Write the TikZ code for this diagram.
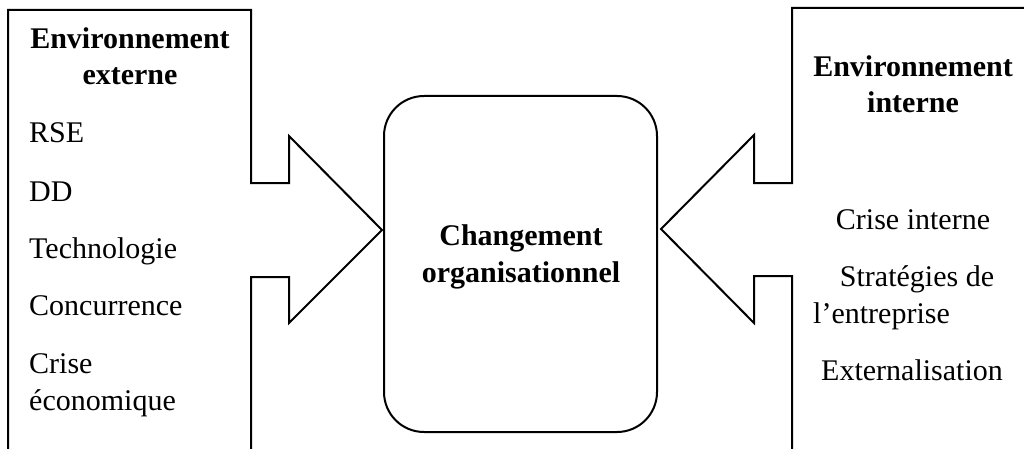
\documentclass[tikz,border=0pt]{standalone}
\usepackage{fontspec}
\setmainfont{Liberation Serif}
\begin{document}
\begin{tikzpicture}[x=1pt,y=-1pt,
  outline/.style={draw=black,line width=2pt,line join=miter},
  txt/.style={inner sep=0pt,font=\fontsize{30}{37}\selectfont},
  ttl/.style={txt,font=\fontsize{30}{37}\selectfont\bfseries}]
\path[use as bounding box] (0,0) rectangle (1024,449);
% left callout arrow
\draw[outline] (8,460) -- (8,10) -- (251,10) -- (251,183) -- (289,183) -- (289,136)
  -- (382,230) -- (289,323) -- (289,277) -- (251,277) -- (251,460);
% right callout arrow
\draw[outline] (1040,8) -- (792,8) -- (792,183) -- (754,183) -- (754,135)
  -- (661,229) -- (754,323) -- (754,276) -- (792,276) -- (792,460);
% centre box
\node[outline,rounded corners=40pt,minimum width=273pt,minimum height=336pt,inner sep=0pt]
  (centre) at (520.5,264) {};
\node[ttl,anchor=base] (c1) at (521,245) {Changement};
\node[ttl,anchor=base] (c2) at (521,282) {organisationnel};
% left texts
\node[ttl,anchor=base] (l0) at (130,49) {Environnement};
\node[ttl,anchor=base] (l1) at (130,85) {externe};
\node[txt,anchor=base west] (la) at (29,143) {RSE};
\node[txt,anchor=base west] (lb) at (29,201) {DD};
\node[txt,anchor=base west] (lc) at (29,258) {Technologie};
\node[txt,anchor=base west] (ld) at (29,315) {Concurrence};
\node[txt,anchor=base west] (le) at (29,373) {Crise};
\node[txt,anchor=base west] (lf) at (29,410) {économique};
% right texts
\node[ttl,anchor=base] (r0) at (913,77) {Environnement};
\node[ttl,anchor=base] (r1) at (913,113) {interne};
\node[txt,anchor=base] (ra) at (913,229) {Crise interne};
\node[txt,anchor=base] (rb) at (917,286) {Stratégies de};
\node[txt,anchor=base west] (rc) at (813,323) {l’entreprise};
\node[txt,anchor=base] (rd) at (912,380) {Externalisation};
\end{tikzpicture}
\end{document}
